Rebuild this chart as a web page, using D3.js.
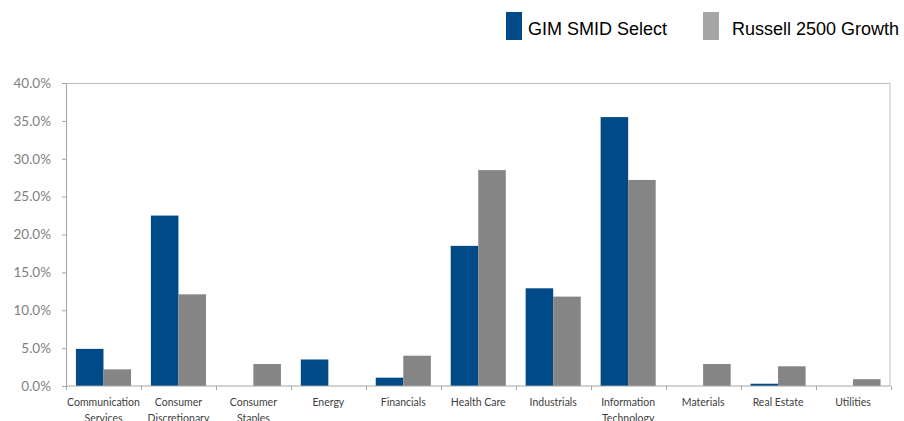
<!DOCTYPE html>
<html>
<head>
<meta charset="utf-8">
<script src="https://cdn.jsdelivr.net/npm/d3@7"></script>
<style>
  body { margin: 0; background: #fff; }
  svg { display: block; }
</style>
</head>
<body>
<div id="chart"></div>
<script>
// data
var sectors = ["Communication Services", "Consumer Discretionary", "Consumer Staples", "Energy",
  "Financials", "Health Care", "Industrials", "Information Technology", "Materials", "Real Estate", "Utilities"];
var seriesNames = ["GIM SMID Select", "Russell 2500 Growth"];
var gimValues = [4.9, 22.5, 0, 3.5, 1.1, 18.5, 12.9, 35.5, 0, 0.3, 0];
var russellValues = [2.2, 12.1, 2.9, 0, 4.0, 28.5, 11.8, 27.2, 2.9, 2.6, 0.9];
var yTicks = [0, 5, 10, 15, 20, 25, 30, 35, 40];

var colors = ["#004B87", "#858585"];
var legendColors = ["#004B87", "#A6A6A6"];

var W = 904, H = 421;
var margin = {top: 83, right: 14, bottom: 35, left: 66},
    width = 890.5 - margin.left,
    height = 386 - margin.top;

var svg = d3.select("#chart").append("svg")
    .attr("width", W)
    .attr("height", H);

var g = svg.append("g")
    .attr("transform", "translate(" + margin.left + "," + margin.top + ")");

var x = d3.scaleBand()
    .domain(sectors)
    .range([0, width])
    .paddingInner(0.265)
    .paddingOuter(0.1325);

var x1 = d3.scaleBand()
    .domain([0, 1])
    .range([0, x.bandwidth()]);

var y = d3.scaleLinear()
    .domain([0, 40])
    .range([height, 0]);

// plot frame (top + right)
g.append("path")
  .attr("d", "M0,0.5H" + (width - 0.5) + "V" + height)
  .attr("fill", "none")
  .attr("stroke", "#BFBFBF")
  .attr("stroke-width", 1);

// bars
var rows = sectors.map(function(s, i) { return {sector: s, vals: [gimValues[i], russellValues[i]]}; });
var grp = g.selectAll(".grp")
  .data(rows)
  .enter().append("g")
    .attr("transform", function(d) { return "translate(" + x(d.sector) + ",0)"; });

grp.selectAll("rect")
  .data(function(d) { return d.vals.map(function(v, k) { return {k: k, v: v}; }); })
  .enter().append("rect")
    .attr("x", function(d) { return x1(d.k); })
    .attr("width", x1.bandwidth())
    .attr("y", function(d) { return y(d.v); })
    .attr("height", function(d) { return height - y(d.v); })
    .attr("fill", function(d) { return colors[d.k]; });

// y axis
var yAxis = g.append("g")
  .call(d3.axisLeft(y).tickValues(yTicks).tickSize(4).tickSizeOuter(0)
    .tickFormat(function(d) { return d3.format(".1f")(d) + "%"; }));
yAxis.select(".domain").attr("stroke", "#A6A6A6");
yAxis.selectAll(".tick line").attr("stroke", "#A6A6A6");
yAxis.selectAll(".tick text")
  .attr("x", -15)
  .attr("fill", "#7F7F7F")
  .style("font-family", "Lato, 'Open Sans', sans-serif")
  .style("font-size", "13.5px");

// x axis
var band = width / sectors.length;
var xAxis = g.append("g")
  .attr("transform", "translate(0," + height + ")");
xAxis.append("line")
  .attr("x1", 0).attr("x2", width)
  .attr("stroke", "#A6A6A6");
xAxis.selectAll(".xt")
  .data(d3.range(sectors.length + 1))
  .enter().append("line")
    .attr("x1", function(i) { return Math.round(i * band) + 0.5; })
    .attr("x2", function(i) { return Math.round(i * band) + 0.5; })
    .attr("y1", 0).attr("y2", 4)
    .attr("stroke", "#A6A6A6");

var labels = xAxis.selectAll(".xl")
  .data(sectors)
  .enter().append("text")
    .attr("text-anchor", "middle")
    .attr("fill", "#404040")
    .style("font-family", "Lato, 'Open Sans', sans-serif")
    .style("font-size", "10.5px")
    .attr("transform", function(d) { return "translate(" + (x(d) + x.bandwidth() / 2) + ",20)"; });

labels.each(function(d) {
  var parts = d.split(" ");
  var lines = parts.length > 1 && d !== "Health Care" && d !== "Real Estate" ? [parts[0], parts.slice(1).join(" ")] : [d];
  var t = d3.select(this);
  lines.forEach(function(l, i) {
    t.append("tspan").attr("x", 0).attr("dy", i === 0 ? 0 : 16).text(l);
  });
});

// legend
var legendX = [506, 703];
var leg = svg.selectAll(".leg")
  .data(seriesNames)
  .enter().append("g")
    .attr("transform", function(d, i) { return "translate(" + legendX[i] + ",12)"; });
leg.append("rect")
  .attr("width", 16)
  .attr("height", 28)
  .attr("fill", function(d, i) { return legendColors[i]; });
leg.append("text")
  .attr("x", function(d, i) { return i === 0 ? 22 : 29; })
  .attr("y", 23)
  .attr("fill", "#000")
  .style("font-family", "'Liberation Sans', Arial, sans-serif")
  .style("font-size", "18px")
  .text(function(d) { return d; });
</script>
</body>
</html>
